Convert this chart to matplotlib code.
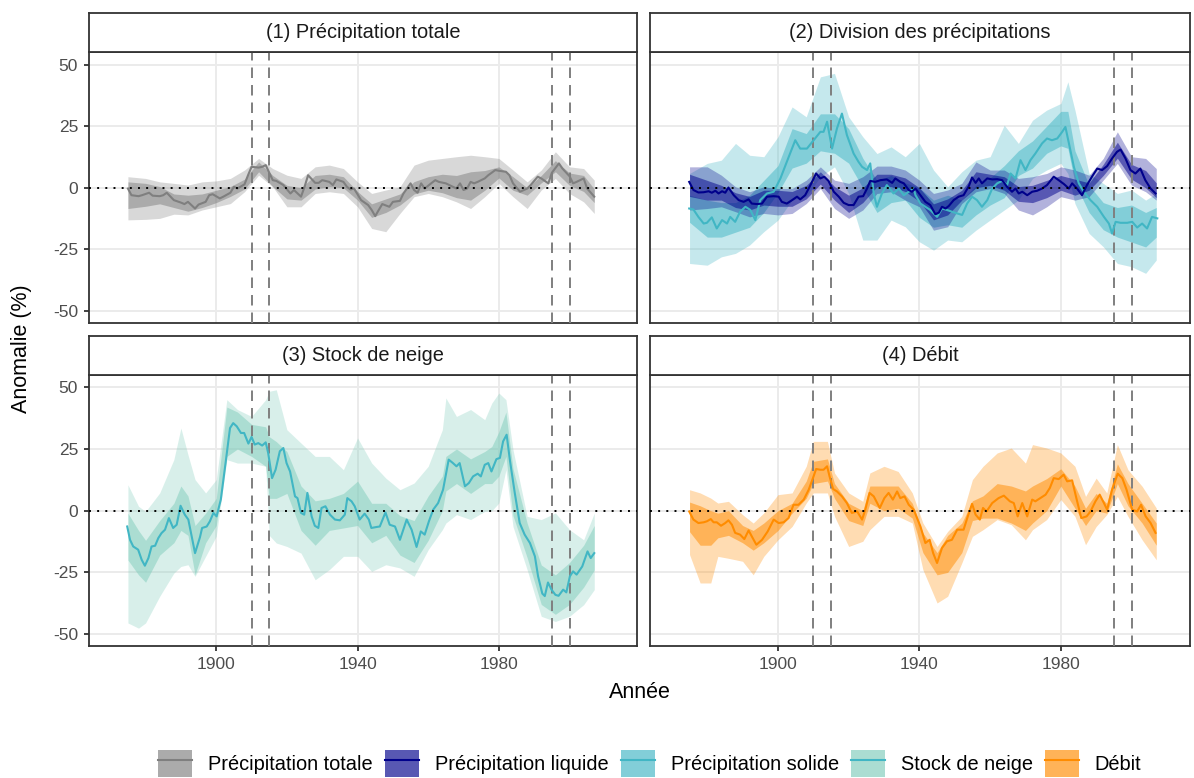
import matplotlib
matplotlib.use("Agg")
import matplotlib.pyplot as plt
from matplotlib.patches import Patch
from matplotlib.lines import Line2D
from matplotlib.legend_handler import HandlerTuple

plt.rcParams["font.family"] = ["Liberation Sans", "DejaVu Sans"]
plt.rcParams["axes.unicode_minus"] = False

# ---- données (anomalie en %) ----
# (1) précipitation totale
tot_yr = [1875, 1876, 1878, 1879, 1881, 1882, 1884, 1885, 1886, 1888, 1890, 1891, 1892, 1894, 1895, 1897,
          1898, 1899, 1901, 1902, 1904, 1905, 1906, 1908, 1909, 1910, 1912, 1913, 1914, 1916, 1917, 1919,
          1921, 1922, 1924, 1925, 1926, 1928, 1929, 1930, 1932, 1933, 1934, 1936, 1937, 1938, 1939, 1941,
          1943, 1944, 1945, 1946, 1947, 1949, 1950, 1952, 1953, 1955, 1956, 1957, 1958, 1959, 1961, 1962,
          1963, 1965, 1966, 1968, 1969, 1970, 1971, 1972, 1973, 1974, 1976, 1977, 1979, 1980, 1982, 1983,
          1984, 1986, 1988, 1989, 1991, 1992, 1994, 1995, 1997, 1998, 2000, 2001, 2002, 2004, 2005, 2007]
tot_val = [-0.3, -3, -3.4, -3, -2, -3.2, -3.4, -3, -2, -5, -6, -6.6, -5.7, -8.4, -6.8, -5.7,
           -3, -2.6, -4.3, -3.6, -2, 0.4, -0.3, 1.4, 5.1, 8.5, 8.2, 8.5, 9.2, 3.1, 2.8, 1.1,
           -2.3, -0.9, -3.6, 0.4, 5.1, 2, 2, 3.1, 2.4, 1.1, 3.4, 2.4, 0.4, -0.7, -0.3, -5,
           -7, -9, -11.5, -9, -6.6, -7.7, -5.7, -5.3, -2.3, 1.8, -0.9, -2, 1.8, -0.3, 2, 3.1,
           2.4, 1.8, 1.1, -0.3, 1.8, -0.9, -0.3, 2.4, 1.8, 2.4, 3.8, 5.1, 7.2, 6.9, 6.5, 5.1,
           1.8, -1.6, -0.3, 1.1, 4.5, 3.8, 1.8, 6.1, 9.9, 7.8, 4.7, 1.8, 2.4, 3.8, -0.3, -3.6]
tot_band_yr = [1875, 1880, 1884, 1888, 1892, 1896, 1900, 1904, 1908, 1912, 1916, 1920, 1924, 1928, 1932, 1936, 1940,
               1944, 1948, 1952, 1956, 1960, 1964, 1968, 1972, 1976, 1980, 1984, 1988, 1992, 1996, 2000, 2004, 2007]
tot_out_hi = [4.5, 3.8, 2.4, 1.8, 1.1, 2.4, 2.8, 3.8, 7.2, 11.9, 7.8, 5.1, 3.8, 8.5, 9.2, 7.8, 2.4,
              -2.3, -0.9, 0.4, 9.2, 11.2, 11.9, 12.6, 13.2, 12.6, 11.9, 7.2, 2.4, 7.2, 14.6, 8.5, 7.8, 3.1]
tot_out_lo = [-13, -12.8, -12.4, -10.7, -11, -9, -7.7, -6.4, -1.6, 5.1, 0.4, -7.7, -7.7, -2.3, -1.6, -2.3, -7.7,
              -16.5, -17.8, -10.4, -3.6, -2.3, -3.6, -5.7, -8.4, -3.6, 1.8, -3.6, -8.4, -0.9, 3.8, -2.3, -5.7, -10.4]
tot_in_hi = [2.4, 1.8, 0.5, -2.5, -3, -2.5, -1, 0.5, 3.5, 10.5, 5, 1, 0, 5, 5.5, 4.5, -1.5,
             -6.5, -4.5, -2.5, 2.5, 4.5, 5.5, 5, 6.5, 7, 8.5, 4.5, 0, 5, 11, 6, 5, -0.5]
tot_in_lo = [-8.4, -7.5, -6.5, -8, -9.5, -8, -6, -3.5, -0.5, 6.5, 0.5, -4.5, -5, -0.5, 0.5, 0, -5,
             -12, -10, -7, -2.5, -1, -2, -4, -5, -1, 4, -1, -3, 2, 6.5, 1, -1.5, -6]

# (2a) précipitation liquide
liq_yr = [1874.9, 1876.1, 1877.5, 1879.0, 1880.4, 1881.3, 1882.3, 1883.2, 1884.2, 1885.1,
          1886.0, 1887.5, 1888.9, 1890.3, 1891.7, 1892.6, 1894.1, 1895.5, 1896.9, 1898.8,
          1900.2, 1901.1, 1902.5, 1904.0, 1905.4, 1906.3, 1907.7, 1909.2, 1910.8, 1912.0,
          1913.1, 1914.3, 1915.8, 1917.2, 1918.6, 1920.0, 1921.4, 1922.8, 1924.1, 1925.2,
          1926.1, 1927.5, 1929.0, 1930.8, 1932.3, 1933.2, 1934.6, 1935.6, 1937.0, 1937.9,
          1938.9, 1940.3, 1941.7, 1943.1, 1944.5, 1945.5, 1946.4, 1947.4, 1948.3, 1949.7,
          1951.1, 1952.5, 1954.0, 1954.9, 1955.9, 1956.8, 1957.7, 1959.2, 1960.6, 1962.0,
          1963.4, 1964.8, 1966.2, 1967.2, 1968.1, 1969.1, 1970.5, 1971.9, 1973.3, 1974.7,
          1976.1, 1978.0, 1979.4, 1980.9, 1982.3, 1983.2, 1984.6, 1986.0, 1987.4, 1988.9,
          1990.3, 1991.7, 1993.1, 1994.5, 1995.9, 1996.9, 1998.3, 1999.7, 2001.1, 2002.5,
          2003.9, 2005.4, 2006.8]
liq_val = [2.4, -0.9, -1.9, -1.8, -1.4, -2, -1.2, -2.3, -1.4, -2,
           0.1, -3, -5, -5.7, -4.7, -6.4, -6.6, -6.4, -3.6, -3.4,
           -3.6, -5.7, -6.4, -5, -3.6, -4.7, -3, 1.1, 5.8, 3.8,
           4.5, 2.8, -1.6, -3.6, -6.1, -7, -7, -3.6, -3.4, -0.3,
           2.8, 2.4, 3.1, 3.4, 2, 3.8, 2.4, 1.8, -0.9, -1.6,
           -0.3, -3, -5.7, -7, -10.7, -10.1, -7.7, -8.4, -7.4, -5,
           -3.6, -3, 0.7, 4.2, 2, 3.8, 1.8, 3.8, 3.4, 3.5,
           3.1, 0.4, -1.6, -0.3, -2.3, -1.6, -3, -1.6, -1.2, -0.3,
           1.1, 4.5, 3.1, 1.5, -0.3, 1.8, -0.3, -3, 1.1, 4.7,
           7.8, 7.2, 8.8, 11.9, 14.6, 15.5, 11.9, 7.2, 5.8, 7.8,
           3.1, -0.3, -2.3]
liq_band_yr = tot_band_yr
liq_out_hi = [8.5, 8.5, 5.1, 0.4, -1.6, 0.4, -0.3, -0.3, 3.1, 8.5, 3.1, 1.8, 4.5, 8.8, 8.8, 7.2, 3.1,
              -2.3, -0.9, 1.8, 10.5, 7.2, 7.2, 3.8, 4.5, 5.8, 8.5, 7.2, 5.1, 11.9, 22.7, 12.6, 11.9, 7.8]
liq_out_lo = [-9, -8.4, -7.7, -9.7, -11.8, -10.4, -11, -10.4, -6.4, -0.3, -8.4, -12.4, -9, -2.3, -1.6, -5, -7.7,
              -17.2, -15.8, -6.4, -1.6, -0.3, -2.3, -9, -11, -7.7, -3.6, -5, -3.6, 3.1, 9.9, 1.1, -1.6, -5]
liq_in_hi = [5.5, 3, 1, -2, -3.5, -1, -1, -1.5, 1, 6.5, 0.5, -3, 0, 5.5, 5.5, 4, 0,
             -6.5, -4.5, -1, 6.5, 5.5, 4.5, 0.5, 1, 3, 5, 3.5, 2, 9.5, 18.5, 9.5, 7, 2]
liq_in_lo = [-3.5, -5, -5, -8, -9, -7, -7.5, -7.5, -4.5, 1.5, -5, -10, -6, 0.5, 0.5, -1.5, -5.5,
             -13, -11, -5, 0, 1, -1, -5.5, -6, -4, -1, -3, -1, 5, 12, 3.5, 0, -4]

# (2b) précipitation solide
sol_yr = [1874.9, 1876.1, 1877.5, 1879.0, 1879.9, 1881.3, 1882.7, 1884.2, 1885.6, 1886.5,
          1887.9, 1889.3, 1890.8, 1892.2, 1893.6, 1895.0, 1896.9, 1898.8, 1900.7, 1902.5,
          1904.9, 1906.3, 1908.2, 1910.1, 1912.0, 1912.9, 1913.9, 1915.3, 1916.7, 1918.1,
          1919.5, 1921.4, 1922.8, 1923.8, 1925.2, 1926.1, 1927.1, 1928.0, 1929.4, 1930.8,
          1932.7, 1934.2, 1935.6, 1937.0, 1938.4, 1938.9, 1940.3, 1941.7, 1943.1, 1945.0,
          1946.4, 1947.8, 1949.2, 1950.7, 1952.1, 1953.5, 1954.9, 1956.3, 1957.7, 1959.2,
          1960.6, 1962.0, 1963.4, 1964.8, 1965.8, 1967.2, 1968.6, 1970.0, 1971.4, 1972.8,
          1974.7, 1976.1, 1977.5, 1979.0, 1980.4, 1981.3, 1982.3, 1983.7, 1985.1, 1986.5,
          1988.4, 1990.3, 1992.2, 1993.6, 1994.5, 1995.5, 1996.9, 1998.8, 2000.2, 2001.6,
          2003.0, 2004.4, 2005.8, 2007.3]
sol_val = [-8.4, -8.8, -11.8, -14.5, -14.2, -12, -16.5, -13.1, -14.5, -11.8,
           -13.8, -9.7, -7.7, -9, -13.1, -5, -2.3, -1.6, 3.8, 10.5,
           19.3, 15.9, 15.9, 19.3, 22.7, 22.7, 26.8, 15.9, 24.1, 30.1,
           21.4, 13.9, 10.5, 8.5, 7.2, 9.9, -2.3, -7.7, -2.3, 1.1,
           -2.3, -0.3, -3, -1.6, -0.3, -3, -6.4, -7.7, -9, -11.8,
           -8.4, -9, -9.7, -10.4, -11, -6.4, -3.6, -5, -7.7, -5,
           -0.3, 1.8, 2.8, 1.1, 5.8, 3.8, 11.2, 7.2, 11.2, 13.9,
           18, 20, 19.3, 20, 22.7, 24.7, 18, 8.5, 1.8, -1.6,
           -5, -7.7, -11.8, -14.5, -18.5, -13.8, -14.2, -14.2, -13.8, -16.1,
           -14.5, -16.5, -11.8, -12.4]
sol_band_yr = [1875, 1880, 1884, 1888, 1892, 1896, 1900, 1904, 1908, 1912, 1916, 1920, 1924, 1928, 1932, 1936, 1940,
               1944, 1948, 1952, 1956, 1960, 1964, 1968, 1972, 1976, 1980, 1982, 1984, 1988, 1992, 1996, 2000, 2004, 2007]
sol_out_hi = [5.8, 9.9, 11.2, 18, 13.2, 12.6, 20.7, 32.8, 28.8, 45, 46.4, 28.8, 20.7, 13.9, 16.6, 12.6, 18,
              7.2, 0.4, 6.5, 11.2, 12.6, 25.4, 18, 27.4, 31.5, 34.2, 43, 31.5, 5.8, 1.8, -2.3, -0.9, -5, -2.3]
sol_out_lo = [-30.7, -31.4, -28, -26.6, -23.2, -17.8, -13.1, -5, -3.6, 4.5, 8.5, -2.3, -21.2, -21.2, -13.1, -15.8, -21.9,
              -25.3, -21.2, -21.9, -17.2, -13.1, -9, -5, 3.8, 7.2, 9.9, 5.8, -6.4, -18.5, -23.9, -30.7, -32, -34.7, -29.3]
sol_in_hi = [-3, -5, -6, -6, -3, 3, 9, 24, 22, 30, 30, 24, 12, 3, 5, 2, 0,
             -5, -3, -5, 1, 4, 9, 15, 19, 25, 31, 31, 15, 1, -6, -8, -7, -10, -8]
sol_in_lo = [-14, -20, -20, -18, -16, -10, -2, 8, 10, 15, 14, 10, 0, -10, -6, -5, -12,
             -16, -15, -16, -11, -7, -4, 5, 8, 14, 17, 16, 2, -10, -17, -20, -22, -24, -20]

# (3) stock de neige
snow_yr = [1874.8, 1875.6, 1876.5, 1877.9, 1878.9, 1879.8, 1880.8, 1881.7, 1882.7, 1883.6,
           1884.5, 1885.5, 1886.6, 1887.8, 1888.8, 1889.9, 1891.1, 1892.1, 1894.0, 1895.4,
           1896.0, 1897.3, 1898.2, 1899.2, 1900.1, 1901.3, 1902.7, 1903.9, 1904.8, 1905.8,
           1907.0, 1907.9, 1909.1, 1910.0, 1910.9, 1911.9, 1913.0, 1914.0, 1914.7, 1915.8,
           1916.8, 1918.0, 1919.0, 1919.9, 1920.9, 1922.3, 1923.0, 1924.0, 1924.9, 1925.8,
           1927.0, 1927.9, 1928.9, 1929.8, 1930.9, 1932.2, 1933.6, 1935.0, 1936.4, 1937.1,
           1938.3, 1939.2, 1940.6, 1942.0, 1943.2, 1943.9, 1945.4, 1946.3, 1947.9, 1949.1,
           1950.6, 1952.0, 1953.9, 1955.3, 1956.7, 1957.9, 1959.0, 1960.2, 1961.4, 1962.8,
           1964.2, 1965.8, 1967.0, 1968.0, 1968.9, 1970.4, 1971.5, 1972.7, 1974.0, 1974.9,
           1976.0, 1977.0, 1977.9, 1979.3, 1980.3, 1981.2, 1982.2, 1983.1, 1984.5, 1985.9,
           1987.3, 1988.8, 1990.2, 1991.1, 1992.3, 1993.0, 1993.9, 1994.9, 1996.0, 1996.9,
           1998.2, 1999.1, 2000.1, 2001.0, 2002.0, 2003.6, 2005.1, 2006.0, 2007.0]
snow_val = [-6.4, -11.8, -14.5, -15.8, -19.9, -22.3, -19.2, -14.5, -14.2, -11.1,
            -9.1, -7.7, -3, -7, -5.7, 2, -1.6, -3.6, -17.2, -10.7,
            -7, -6.4, -4.3, -0.9, -2.3, 4.5, 20, 33.5, 35.5, 34.2,
            31.5, 31.5, 27.2, 29.9, 26.8, 27.4, 26.4, 27.7, 23.4, 13.2,
            16.6, 24.1, 25.4, 19.3, 15.9, 5.8, 5.1, -0.9, -1.6, 7.2,
            -2.3, -6.1, -7, 1.1, 1.8, -1.6, -3.6, -3.9, -1.6, 5.1,
            3.8, 1.8, -3.6, -1.2, -3.6, -7, -6.6, -6.4, -0.7, -5.7,
            -6.4, -11.8, -3.6, -7.7, -14.7, -8.4, -9.7, -4.3, 0.4, 3.1,
            8.5, 20.7, 19.3, 18, 19.3, 9.9, 11.2, 13.9, 15, 13.9,
            18.6, 19.3, 15.9, 20.9, 21.4, 28.1, 30.8, 20.7, 7.2, -5,
            -9.7, -13.1, -18.5, -26.6, -33.6, -34.6, -29.1, -32, -34.1, -34.5,
            -32, -33.1, -26.6, -24.6, -25.9, -22.6, -16.5, -19.2, -17.2]
snow_band_yr = [1875, 1878, 1880, 1884, 1888, 1890, 1892, 1894, 1897, 1900, 1903, 1906, 1910, 1914,
                1915, 1917, 1920, 1924, 1928, 1932, 1936, 1940, 1944, 1948, 1952, 1956, 1960, 1964,
                1965, 1968, 1972, 1976, 1978, 1980, 1982, 1984, 1988, 1992, 1996, 2000, 2004, 2007]
snow_out_hi = [10.5, 1.8, -0.3, 7.2, 20.7, 33.5, 22.7, 12.6, 7.2, 12.6, 45, 41, 38.2, 45,
               48.4, 49, 32.8, 27.4, 22, 22, 16.6, 29.5, 19.3, 13.2, 8.5, 11.2, 18, 32.8,
               45.7, 38.2, 41, 36.9, 43.6, 47.7, 45, 24.7, -2.3, -3.6, -0.9, -7.7, -11.8, -1]
snow_out_lo = [-45.5, -47.6, -45.5, -34.7, -25.3, -22.6, -21.9, -26.6, -18.5, -10.4, 20.7, 19.3, 19.3, 18,
               -10, -13.1, -14.5, -17.2, -28, -23.9, -18.5, -18.5, -24.6, -21.9, -23.2, -26.6, -15.8, -7.7,
               -5, -1.6, -3.6, -0.3, 0, 3.1, 16.6, -6.4, -23.9, -42.8, -44.9, -42.8, -38.1, -32]
snow_in_hi = [-1, -8, -12, -4, 3, 10, 6, -6, -1, 5, 42, 40, 35, 34,
              30, 28, 24, 10, 4, 5, 7, 12, 3, 3, -2, -4, 6, 14,
              22, 25, 21, 24, 26, 32, 40, 17, -5, -22, -26, -21, -14, -6]
snow_in_lo = [-20, -26, -29, -18, -13, -8, -10, -26, -13, -6, 22, 25, 22, 18,
              5, 5, 7, -8, -14, -8, -7, -6, -13, -10, -18, -21, -12, 0,
              8, 11, 7, 11, 11, 14, 22, -2, -19, -38, -42, -38, -31, -24]

# (4) débit
deb_yr = [1874.9, 1876.1, 1877.5, 1879.0, 1879.9, 1881.0, 1881.8, 1882.7, 1883.9, 1885.1,
          1886.0, 1887.0, 1887.9, 1889.3, 1890.5, 1891.7, 1892.6, 1893.9, 1895.5, 1897.1,
          1898.8, 1900.2, 1901.6, 1903.0, 1904.4, 1905.8, 1907.3, 1908.7, 1909.9, 1910.8,
          1912.0, 1912.9, 1913.9, 1914.6, 1915.6, 1916.7, 1918.1, 1919.5, 1920.9, 1922.4,
          1923.8, 1924.7, 1925.9, 1927.1, 1928.8, 1930.1, 1931.3, 1932.5, 1933.7, 1934.6,
          1935.8, 1937.0, 1938.4,
          1940.3, 1941.7, 1942.9, 1943.9, 1945.0, 1946.4, 1947.8, 1949.2, 1950.7, 1952.5,
          1953.7, 1954.9, 1955.9, 1957.1, 1958.0, 1959.0, 1960.6, 1962.4, 1963.9, 1965.6,
          1966.7, 1967.8, 1969.1, 1970.5, 1971.9, 1972.8, 1974.2, 1975.7, 1976.9, 1978.0,
          1979.4, 1980.8, 1981.8, 1983.2, 1984.4, 1985.8, 1987.3, 1988.4, 1989.8, 1991.0,
          1992.2, 1993.1, 1994.5, 1996.1, 1997.4, 1998.6, 2000.2, 2001.6, 2002.7, 2004.0,
          2005.4, 2006.8]
deb_val = [-0.3, -3.6, -5, -4.7, -4.3, -3.4, -4.7, -4.7, -6.1, -5,
           -3.9, -5.7, -9, -9.7, -11.5, -8, -10.4, -13.8, -11.8, -8.4,
           -3.6, -5, -4.7, -3, 2.4, 2.4, 4.5, 8.5, 13.2, 16.9,
           16.6, 16.6, 18, 13.9, 8.8, 7.8, 5.8, 3.1, -0.9, -0.3,
           -3.6, 0.4, 7.2, 5.8, 1.1, 5.1, 7.2, 4.5, 7.8, 5.1,
           5.8, 2.4, 0.4,
           -6.4, -13.1, -11.8, -17.2, -21.2, -15.1, -12.4, -11.8, -7.7, -7.7,
           -2.3, 2.8, -1.6, -3.6, 1.1, -0.3, 3.1, 5.1, 6.1, 3.8,
           3.1, -2.3, 3.1, -2.3, 4.5, 3.8, 5.1, 6.5, 9.2, 13.2,
           12.8, 14.6, 11.9, 12.3, 5.1, -3, -2.3, -0.3, 3.8, 6.5,
           3.1, 0.4, 8.5, 15, 13.2, 8.5, 0.4, -0.3, 2.4, -2.3,
           -5, -9]
deb_band_yr = [1875, 1878, 1881, 1883, 1886, 1890, 1893, 1896, 1900, 1904, 1908, 1910, 1914, 1916, 1920,
               1924, 1926, 1930, 1934, 1938, 1941, 1945, 1948, 1952, 1955, 1958, 1962, 1966, 1970, 1972,
               1976, 1980, 1984, 1987, 1990, 1993, 1996, 1999, 2003, 2007]
deb_out_hi = [8.5, 7.2, 5.1, 3.1, 3.8, -1.6, -5, -0.9, 6.5, 7.2, 18, 28.1, 28.1, 15.3, 7.2,
              3.8, 15.3, 18, 15.9, 7.2, -5, -14.5, -8.4, -2.3, 12.6, 18, 23.4, 25.4, 19.3, 26.8,
              25.4, 23.4, 18, 5.8, 13.2, 7.2, 26.8, 16.6, 9.9, 1.1]
deb_out_lo = [-17.8, -29.3, -29.3, -18.5, -19.3, -20.5, -26, -18.5, -11.8, -6.4, 3.1, 7.2, 7.2, -2.3, -14.5,
              -12.4, -7.7, -2.3, -2.3, -5, -23.9, -37.4, -34.7, -21.2, -10.4, -7.7, -3.6, -5.7, -11.8, -7.7,
              -3.6, 4.5, -2.3, -13.8, -6.4, -1.6, 5.8, -2.3, -11.8, -19.9]
deb_in_hi = [3.5, 2, 0, -1, 0, -6, -8, -5, 0, 3, 12, 20, 21, 11, 3,
             0, 10, 10, 10, 3, -9, -17, -10, -5, 4, 6, 11, 10, 8, 10,
             13, 17, 10, 1, 7, 3, 19, 11, 3, -5]
deb_in_lo = [-8.5, -14, -14, -11, -10, -13, -16, -13, -8, -1, 5, 11, 12, 5, -4,
             -6, 3, 0, 1, -3, -17, -26, -25, -17, -4, -3, -3, -5, -8, -5,
             0, 10, 1, -6, 0, -1, 11, 2, -5, -14]

events = [1910, 1915, 1995, 2000]
x_ticks = [1900, 1940, 1980]
y_ticks = [-50, -25, 0, 25, 50]

total = dict(yr=tot_yr, val=tot_val, byr=tot_band_yr, olo=tot_out_lo, ohi=tot_out_hi,
             ilo=tot_in_lo, ihi=tot_in_hi, line="#7F7F7F", fill="#7F7F7F", label="Précipitation totale")
liquid = dict(yr=liq_yr, val=liq_val, byr=liq_band_yr, olo=liq_out_lo, ohi=liq_out_hi,
              ilo=liq_in_lo, ihi=liq_in_hi, line="#00008B", fill="#00008B", label="Précipitation liquide")
solid = dict(yr=sol_yr, val=sol_val, byr=sol_band_yr, olo=sol_out_lo, ohi=sol_out_hi,
             ilo=sol_in_lo, ihi=sol_in_hi, line="#41B6C4", fill="#41B6C4", label="Précipitation solide")
snow = dict(yr=snow_yr, val=snow_val, byr=snow_band_yr, olo=snow_out_lo, ohi=snow_out_hi,
            ilo=snow_in_lo, ihi=snow_in_hi, line="#41B6C4", fill="#7FCDBB", label="Stock de neige")
debit = dict(yr=deb_yr, val=deb_val, byr=deb_band_yr, olo=deb_out_lo, ohi=deb_out_hi,
             ilo=deb_in_lo, ihi=deb_in_hi, line="#FF8C00", fill="#FF8C00", label="Débit")

panels = [("(1) Précipitation totale", [total]),
          ("(2) Division des précipitations", [solid, liquid]),
          ("(3) Stock de neige", [snow]),
          ("(4) Débit", [debit])]

A_OUT, A_IN = 0.3, 0.5
W, H = 1194, 778
fig = plt.figure(figsize=(W / 100, H / 100), dpi=100)


def box(x0, y0, x1, y1):
    return [x0 / W, 1 - y1 / H, (x1 - x0) / W, (y1 - y0) / H]


# pixel boxes of the two columns, and year range shown in each
cols = [(88.7, 637.0), (650.3, 1189.5)]
xlims = [(1863.9, 2019.1), (1863.9, 2016.4)]
rows = [(13.3, 52.2, 322.9), (336.0, 375.0, 645.9)]
ylim = (-54.8, 55.0)

for i, (title, series) in enumerate(panels):
    r, c = divmod(i, 2)
    x0, x1 = cols[c]
    s0, p0, p1 = rows[r]
    ax = fig.add_axes(box(x0, p0, x1, p1))
    st = fig.add_axes(box(x0, s0, x1, p0))

    for s in series:
        ax.fill_between(s["byr"], s["olo"], s["ohi"], color=s["fill"], alpha=A_OUT, lw=0, zorder=2)
        ax.fill_between(s["byr"], s["ilo"], s["ihi"], color=s["fill"], alpha=A_IN, lw=0, zorder=2)
        ax.plot(s["yr"], s["val"], color=s["line"], lw=1.5, zorder=4)
    for e in events:
        ax.axvline(e, color="#7F7F7F", lw=1.4, ls=(0, (5.4, 3.6)), zorder=3)
    ax.axhline(0, color="black", lw=1.4, ls=(0, (1, 3.2)), zorder=5)

    ax.set_xlim(*xlims[c])
    ax.set_ylim(*ylim)
    ax.set_xticks(x_ticks)
    ax.set_yticks(y_ticks)
    ax.grid(True, color="#EBEBEB", lw=1.4)
    ax.set_axisbelow(True)
    for sp in ax.spines.values():
        sp.set_color("#333333")
        sp.set_linewidth(1.3)
    ax.tick_params(length=3.7, width=1.3, color="#333333", labelcolor="#4D4D4D",
                   labelsize=12.5, pad=4)
    if c == 1:
        ax.tick_params(axis="y", left=False, labelleft=False)
    if r == 0:
        ax.tick_params(axis="x", bottom=False, labelbottom=False)

    st.set_xticks([])
    st.set_yticks([])
    st.set_facecolor("white")
    for sp in st.spines.values():
        sp.set_color("#333333")
        sp.set_linewidth(1.3)
    st.text(0.5, 0.5, title, ha="center", va="center", fontsize=14.4, color="#1A1A1A",
            transform=st.transAxes)

fig.text(640 / W, 1 - 692 / H, "Année", ha="center", va="center", fontsize=15.5)
fig.text(22 / W, 1 - 349 / H, "Anomalie (%)", ha="center", va="center", fontsize=15.5,
         rotation=90)

handles = []
labels = []
for s in [total, liquid, solid, snow, debit]:
    handles.append((Patch(facecolor=s["fill"], alpha=A_OUT, lw=0),
                    Patch(facecolor=s["fill"], alpha=A_IN, lw=0),
                    Line2D([], [], color=s["line"], lw=1.5)))
    labels.append(s["label"])

fig.legend(handles, labels, loc="center", bbox_to_anchor=(650 / W, 1 - 763 / H), ncol=5,
           frameon=False, fontsize=14.4, handlelength=1.7, handleheight=1.7,
           handletextpad=0.8, columnspacing=0.6,
           handler_map={tuple: HandlerTuple(ndivide=1, pad=0)})

fig.savefig("out.png", dpi=100)
